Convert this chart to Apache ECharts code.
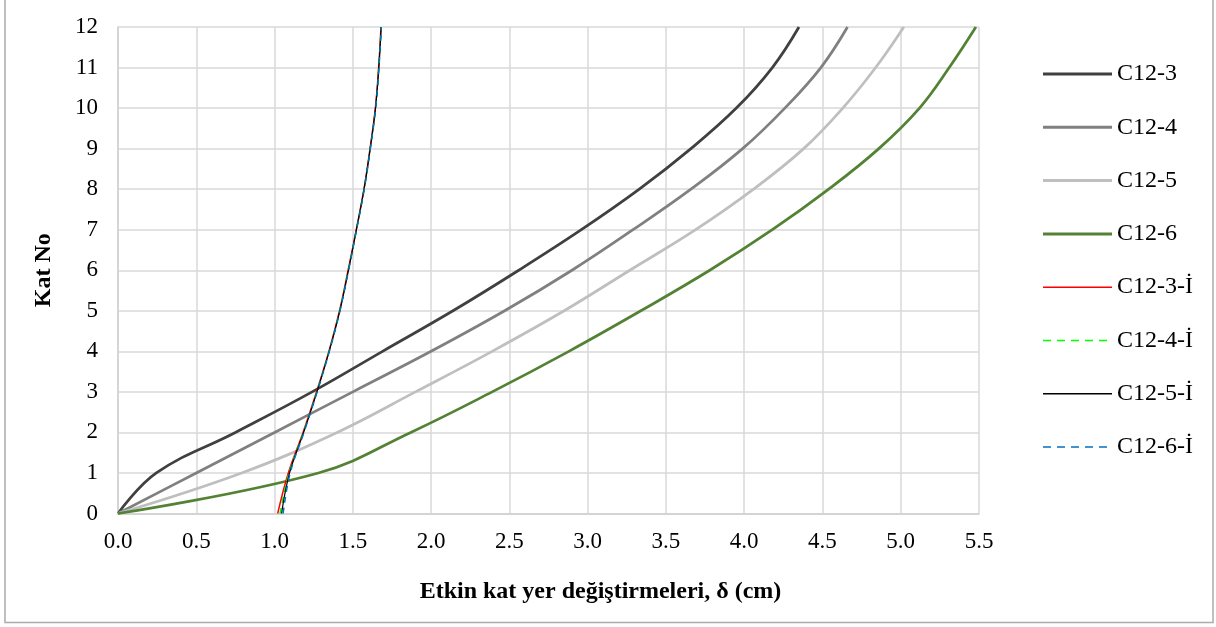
<!DOCTYPE html>
<html>
<head>
<meta charset="utf-8">
<script src="https://cdn.jsdelivr.net/npm/echarts@6/dist/echarts.min.js"></script>
<style>
html,body{margin:0;padding:0;background:#fff;}
#chart{width:1216px;height:627px;}
</style>
</head>
<body>
<div id="chart"></div>
<script>
// Floors (Kat No)
const floors = [0, 1, 2, 3, 4, 5, 6, 7, 8, 9, 10, 11, 12];
// Effective storey displacements (cm)
const c12_3 = [0, 0.245, 0.75, 1.24, 1.69, 2.14, 2.56, 2.96, 3.33, 3.66, 3.95, 4.18, 4.35];
const c12_4 = [0, 0.50, 1.00, 1.50, 2.00, 2.47, 2.90, 3.29, 3.66, 3.99, 4.26, 4.49, 4.66];
const c12_5 = [0, 0.79, 1.40, 1.90, 2.39, 2.85, 3.27, 3.69, 4.06, 4.38, 4.63, 4.84, 5.02];
const c12_6 = [0, 1.28, 1.87, 2.39, 2.88, 3.34, 3.78, 4.18, 4.54, 4.86, 5.12, 5.31, 5.48];
const c12_3i = [1.020, 1.088, 1.182, 1.268, 1.347, 1.415, 1.470, 1.522, 1.571, 1.610, 1.644, 1.665, 1.680];
const c12_4i = [1.035, 1.093, 1.185, 1.270, 1.348, 1.416, 1.471, 1.523, 1.572, 1.611, 1.645, 1.666, 1.681];
const c12_5i = [1.045, 1.096, 1.186, 1.271, 1.349, 1.417, 1.472, 1.523, 1.572, 1.611, 1.645, 1.666, 1.681];
const c12_6i = [1.055, 1.100, 1.188, 1.272, 1.350, 1.418, 1.473, 1.524, 1.573, 1.612, 1.646, 1.667, 1.682];
const names = ['C12-3', 'C12-4', 'C12-5', 'C12-6', 'C12-3-İ', 'C12-4-İ', 'C12-5-İ', 'C12-6-İ'];
const xTicks = ['0.0','0.5','1.0','1.5','2.0','2.5','3.0','3.5','4.0','4.5','5.0','5.5'];

const seriesValues = [c12_3, c12_4, c12_5, c12_6, c12_3i, c12_4i, c12_5i, c12_6i];
const styles = [
  {color: '#404040', width: 2.75, type: 'solid'},
  {color: '#808080', width: 2.75, type: 'solid'},
  {color: '#BFBFBF', width: 2.75, type: 'solid'},
  {color: '#548235', width: 2.75, type: 'solid'},
  {color: '#FF0000', width: 1.5, type: 'solid'},
  {color: '#00FF00', width: 1.5, type: [6, 5]},
  {color: '#000000', width: 1.2, type: 'solid'},
  {color: '#0070C0', width: 1.5, type: [6, 5]}
];

// legend icons: 69 x 3 boxes
const ICON_THICK = 'path://M0,0h69v3h-69z';
const ICON_THIN = 'path://M0,0h0.01v3h-0.01z M0,0.75h69v1.5h-69z';
const ICON_DASH = 'path://M0,0h0.01v3h-0.01z M0,0.75h8v1.5h-8z M14,0.75h8v1.5h-8z M28,0.75h8v1.5h-8z M42,0.75h8v1.5h-8z M56,0.75h8v1.5h-8z M68.99,0h0.01v3h-0.01z';
const icons = [ICON_THICK, ICON_THICK, ICON_THICK, ICON_THICK, ICON_THIN, ICON_DASH, ICON_THIN, ICON_DASH];

const FONT = '"Liberation Serif", "Times New Roman", serif';

const series = seriesValues.map((vals, i) => ({
  name: names[i],
  type: 'line',
  data: vals.map((v, k) => [v, floors[k]]),
  smooth: 0.4,
  showSymbol: false,
  symbol: 'none',
  lineStyle: {color: styles[i].color, width: styles[i].width, type: styles[i].type},
  itemStyle: {color: styles[i].color},
  emphasis: {disabled: true},
  animation: false,
  z: 2 + i
}));

const chart = echarts.init(document.getElementById('chart'), null, {renderer: 'canvas'});
chart.setOption({
  animation: false,
  backgroundColor: '#ffffff',
  grid: {left: 118, right: 237, top: 27, bottom: 113.5, containLabel: false},
  xAxis: {
    type: 'value', min: 0, max: 5.5, interval: 0.5,
    name: 'Etkin kat yer değiştirmeleri, δ (cm)',
    nameLocation: 'middle', nameGap: 66,
    nameTextStyle: {fontFamily: FONT, fontSize: 24, fontWeight: 'bold', color: '#000', padding: [0, 0, 0, 104]},
    axisLine: {show: true, lineStyle: {color: '#D0D0D0', width: 1.5}},
    axisTick: {show: false},
    axisLabel: {fontFamily: FONT, fontSize: 23, color: '#000', margin: 17,
      formatter: (v) => xTicks[Math.round(v / 0.5)] },
    splitLine: {show: true, lineStyle: {color: '#D9D9D9', width: 1.5}}
  },
  yAxis: {
    type: 'value', min: 0, max: 12, interval: 1,
    name: 'Kat No',
    nameLocation: 'middle', nameGap: 62, nameRotate: 90,
    nameTextStyle: {fontFamily: FONT, fontSize: 24, fontWeight: 'bold', color: '#000'},
    axisLine: {show: true, lineStyle: {color: '#D0D0D0', width: 1.5}},
    axisTick: {show: false},
    axisLabel: {fontFamily: FONT, fontSize: 23, color: '#000', margin: 20},
    splitLine: {show: true, lineStyle: {color: '#D9D9D9', width: 1.5}}
  },
  legend: {
    orient: 'vertical',
    left: 1043, top: 62,
    padding: 0,
    itemWidth: 69, itemHeight: 3,
    itemGap: 29.3,
    selectedMode: false,
    itemStyle: {borderWidth: 0},
    textStyle: {fontFamily: FONT, fontSize: 24, color: '#000', lineHeight: 24},
    data: names.map((n, i) => ({name: n, icon: icons[i], itemStyle: {color: styles[i].color, borderWidth: 0}}))
  },
  graphic: [{
    type: 'rect', silent: true,
    shape: {x: 5, y: -2, width: 1208, height: 624.5},
    style: {fill: 'none', stroke: '#ABABAB', lineWidth: 1.5}
  }],
  series: series
});
</script>
</body>
</html>
